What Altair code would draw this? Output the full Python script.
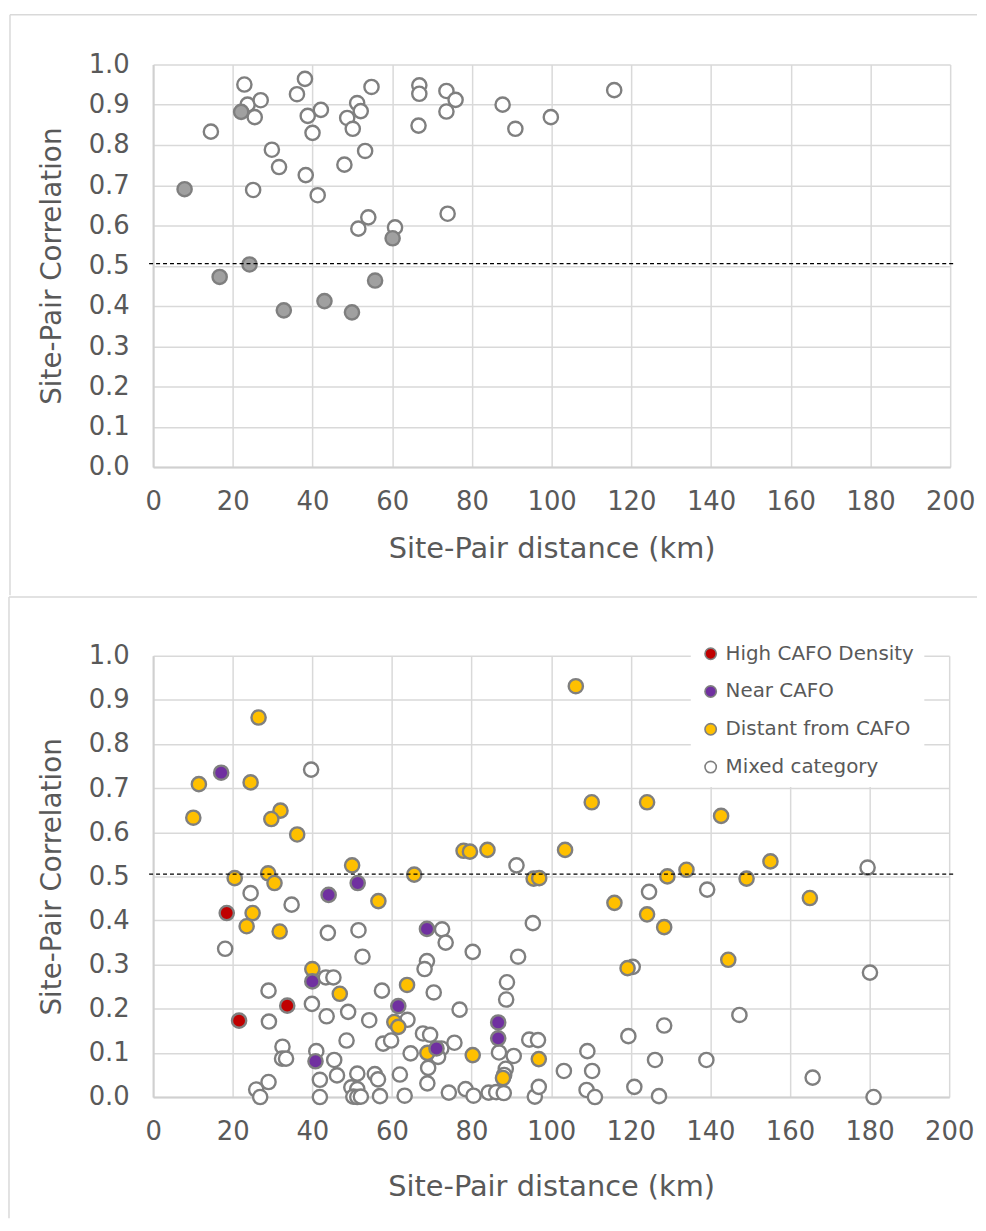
import altair as alt
import pandas as pd

# ---------------- data ----------------
# Top panel
top_open_km = [22.9, 23.7, 27.0, 25.5, 14.5, 38.1, 36.1, 38.8, 42.1, 40.0, 29.8, 31.6,
               38.3, 25.1, 41.3, 48.7, 50.1, 51.2, 52.1, 54.8, 53.2, 48.0, 51.5, 54.0,
               60.7, 66.8, 66.8, 66.6, 73.6, 75.9, 73.6, 87.7, 90.9, 99.8, 115.7, 73.9]
top_open_r = [0.950, 0.900, 0.911, 0.869, 0.833, 0.964, 0.926, 0.872, 0.887, 0.830, 0.788, 0.745,
              0.725, 0.688, 0.675, 0.867, 0.840, 0.904, 0.884, 0.944, 0.785, 0.751, 0.592, 0.620,
              0.595, 0.948, 0.927, 0.848, 0.934, 0.912, 0.883, 0.900, 0.840, 0.869, 0.936, 0.629]
top_fill_km = [22.1, 7.9, 60.1, 24.2, 16.7, 55.7, 32.8, 43.0, 49.9]
top_fill_r = [0.882, 0.690, 0.568, 0.503, 0.472, 0.463, 0.389, 0.412, 0.384]

# Bottom panel
high_km = [18.5, 33.7, 21.6]
high_r = [0.417, 0.207, 0.173]

near_km = [17.1, 51.4, 44.1, 68.8, 40.0, 61.6, 40.8, 86.7, 86.7, 71.2]
near_r = [0.735, 0.485, 0.458, 0.381, 0.262, 0.206, 0.081, 0.169, 0.133, 0.110]

distant_km = [26.5, 11.5, 24.5, 10.1, 32.0, 29.7, 36.2, 50.0, 65.6, 20.5, 28.9, 30.5,
              56.6, 25.0, 23.5, 31.8, 40.0, 46.9, 63.8, 60.6, 61.6, 68.9, 80.3, 96.9,
              87.9, 106.2, 110.2, 124.1, 78.0, 79.6, 84.0, 103.5, 95.6, 97.0, 129.2, 134.0,
              115.9, 124.1, 128.4, 119.2, 142.7, 155.1, 149.1, 165.0, 144.5]
distant_r = [0.860, 0.709, 0.713, 0.633, 0.649, 0.630, 0.595, 0.525, 0.504, 0.496, 0.507, 0.485,
             0.444, 0.417, 0.387, 0.375, 0.290, 0.234, 0.254, 0.170, 0.159, 0.100, 0.095, 0.086,
             0.043, 0.931, 0.668, 0.668, 0.558, 0.556, 0.560, 0.560, 0.495, 0.496, 0.500, 0.515,
             0.440, 0.414, 0.385, 0.292, 0.637, 0.534, 0.495, 0.451, 0.311]

mixed_km = [39.7, 24.5, 34.8, 43.9, 51.6, 18.1, 52.6, 43.4, 45.3, 29.0, 57.5, 39.9,
            43.6, 49.0, 54.3, 63.9, 29.1, 48.6, 57.8, 59.8, 67.8, 69.6, 32.5, 32.4,
            33.4, 41.0, 45.5, 64.7, 69.1, 68.9, 46.2, 51.3, 55.7, 56.5, 62.0, 29.0,
            25.9, 26.9, 41.9, 41.9, 49.8, 51.3, 50.3, 51.3, 52.2, 57.0, 63.2, 68.8,
            68.2, 70.5, 72.6, 73.5, 95.4, 80.3, 91.7, 120.5, 88.9, 88.7, 77.0, 72.4,
            75.7, 71.6, 86.9, 90.6, 94.5, 96.7, 88.6, 88.2, 74.3, 78.5, 80.5, 84.3,
            86.2, 88.1, 95.9, 96.9, 103.2, 109.1, 110.3, 108.9, 111.0, 119.4, 128.4, 126.1,
            120.9, 127.1, 139.0, 124.6, 139.2, 91.3, 179.5, 180.1, 147.3, 165.7, 181.0]
mixed_r = [0.742, 0.462, 0.436, 0.372, 0.378, 0.336, 0.318, 0.271, 0.271, 0.241, 0.241, 0.211,
           0.183, 0.193, 0.174, 0.175, 0.171, 0.128, 0.121, 0.128, 0.144, 0.141, 0.114, 0.087,
           0.087, 0.104, 0.084, 0.099, 0.066, 0.031, 0.049, 0.053, 0.052, 0.040, 0.051, 0.034,
           0.017, 0.000, 0.039, 0.000, 0.022, 0.018, 0.001, 0.000, 0.001, 0.002, 0.003, 0.308,
           0.290, 0.237, 0.380, 0.350, 0.394, 0.329, 0.318, 0.295, 0.260, 0.221, 0.198, 0.110,
           0.123, 0.091, 0.101, 0.093, 0.130, 0.129, 0.064, 0.050, 0.010, 0.018, 0.003, 0.010,
           0.011, 0.009, 0.001, 0.023, 0.059, 0.104, 0.059, 0.016, 0.000, 0.138, 0.162, 0.084,
           0.023, 0.002, 0.084, 0.465, 0.470, 0.525, 0.520, 0.282, 0.186, 0.044, 0.000]

categories = ["High CAFO Density", "Near CAFO", "Distant from CAFO", "Mixed category"]
cat_fill = ["#C00000", "#7030A0", "#FFC000", "#FFFFFF"]
threshold = 0.505
x_ticks = [0, 20, 40, 60, 80, 100, 120, 140, 160, 180, 200]
y_ticks = [0.0, 0.1, 0.2, 0.3, 0.4, 0.5, 0.6, 0.7, 0.8, 0.9, 1.0]

# ---------------- styling ----------------
FONT = "DejaVu Sans"
TXT = "#595959"
PT_STROKE = "#7f7f7f"
FRAME = "#d9d9d9"
PT_SIZE = 205
PT_SW = 2.4

top_open = pd.DataFrame({"km": top_open_km, "r": top_open_r})
top_fill = pd.DataFrame({"km": top_fill_km, "r": top_fill_r})
dummy = pd.DataFrame({"d": [0]})

rows = []
for name, kms, rs in [("Mixed category", mixed_km, mixed_r),
                      ("Distant from CAFO", distant_km, distant_r),
                      ("Near CAFO", near_km, near_r),
                      ("High CAFO Density", high_km, high_r)]:
    for k, v in zip(kms, rs):
        rows.append({"km": k, "r": v, "cat": name})
bottom = pd.DataFrame(rows)


def x_enc(tpad):
    return alt.X("km:Q", scale=alt.Scale(domain=[0, 200], nice=False, zero=True),
                 axis=alt.Axis(values=x_ticks, title="Site-Pair distance (km)", labelFlush=False,
                               labelPadding=22, titlePadding=tpad, titleFontSize=29))


def y_enc():
    return alt.Y("r:Q", scale=alt.Scale(domain=[0, 1], nice=False),
                 axis=alt.Axis(values=y_ticks, format=".1f", title="Site-Pair Correlation",
                               labelPadding=24, titlePadding=22, titleFontSize=28))


def thr_rule(w):
    return alt.Chart(dummy).mark_rule(color="black", strokeDash=[4, 3], strokeWidth=1.2).encode(
        y=alt.datum(threshold), x=alt.value(-4), x2=alt.value(w + 6))


W1, H1 = 802, 405
W2, H2 = 801, 444

# top panel frame (chart-area border)
top_frame_top = alt.Chart(dummy).mark_rule(color=FRAME, strokeWidth=1.5).encode(
    x=alt.value(-144), x2=alt.value(829), y=alt.value(-50))
top_frame_left = alt.Chart(dummy).mark_rule(color=FRAME, strokeWidth=1.5).encode(
    x=alt.value(-144), y=alt.value(-50), y2=alt.value(534))

top_open_pts = alt.Chart(top_open).mark_circle(
    size=PT_SIZE, fill="white", stroke=PT_STROKE, strokeWidth=PT_SW, opacity=1).encode(
    x=x_enc(20), y=y_enc())
top_fill_pts = alt.Chart(top_fill).mark_circle(
    size=PT_SIZE, fill="#a0a0a0", stroke=PT_STROKE, strokeWidth=PT_SW, opacity=1).encode(
    x=x_enc(20), y=y_enc())

top_chart = alt.layer(top_frame_top, top_frame_left, top_open_pts, top_fill_pts, thr_rule(W1)).properties(
    width=W1, height=H1)

# bottom panel
bot_frame_top = alt.Chart(dummy).mark_rule(color=FRAME, strokeWidth=1.5).encode(
    x=alt.value(-145), x2=alt.value(829), y=alt.value(-59))
bot_frame_left = alt.Chart(dummy).mark_rule(color=FRAME, strokeWidth=1.5).encode(
    x=alt.value(-145), y=alt.value(-59), y2=alt.value(566))

leg = alt.Legend(title=None, orient="none", legendX=541, legendY=-22,
                 labelFont=FONT, labelFontSize=20, labelColor=TXT, labelOffset=5, labelLimit=400,
                 symbolType="circle", symbolSize=130, symbolStrokeWidth=1.6,
                 rowPadding=18, padding=10, fillColor="white")

bot_pts = alt.Chart(bottom).mark_circle(size=PT_SIZE, strokeWidth=PT_SW, opacity=1).encode(
    x=x_enc(28), y=y_enc(),
    fill=alt.Fill("cat:N", scale=alt.Scale(domain=categories, range=cat_fill), legend=leg),
    stroke=alt.Stroke("cat:N", scale=alt.Scale(domain=categories, range=[PT_STROKE] * 4), legend=leg),
)

bottom_chart = alt.layer(bot_frame_top, bot_frame_left, bot_pts, thr_rule(W2)).properties(
    width=W2, height=H2)

chart = alt.vconcat(top_chart, bottom_chart, spacing=0).resolve_legend(
    fill="independent", stroke="independent"
).resolve_scale(fill="independent", stroke="independent").properties(
    padding={"left": 0, "top": 2, "right": 0, "bottom": 0},
    background="white",
).configure_view(stroke=None).configure_axis(
    labelFont=FONT, titleFont=FONT, labelFontSize=26, labelColor=TXT, titleColor=TXT,
    titleFontWeight="normal", ticks=False, domainColor="#d0d0d0", domainWidth=2,
    gridColor="#d9d9d9", gridWidth=1.5,
)

chart.save("out.html", embed_options={"renderer": "svg", "actions": False})
